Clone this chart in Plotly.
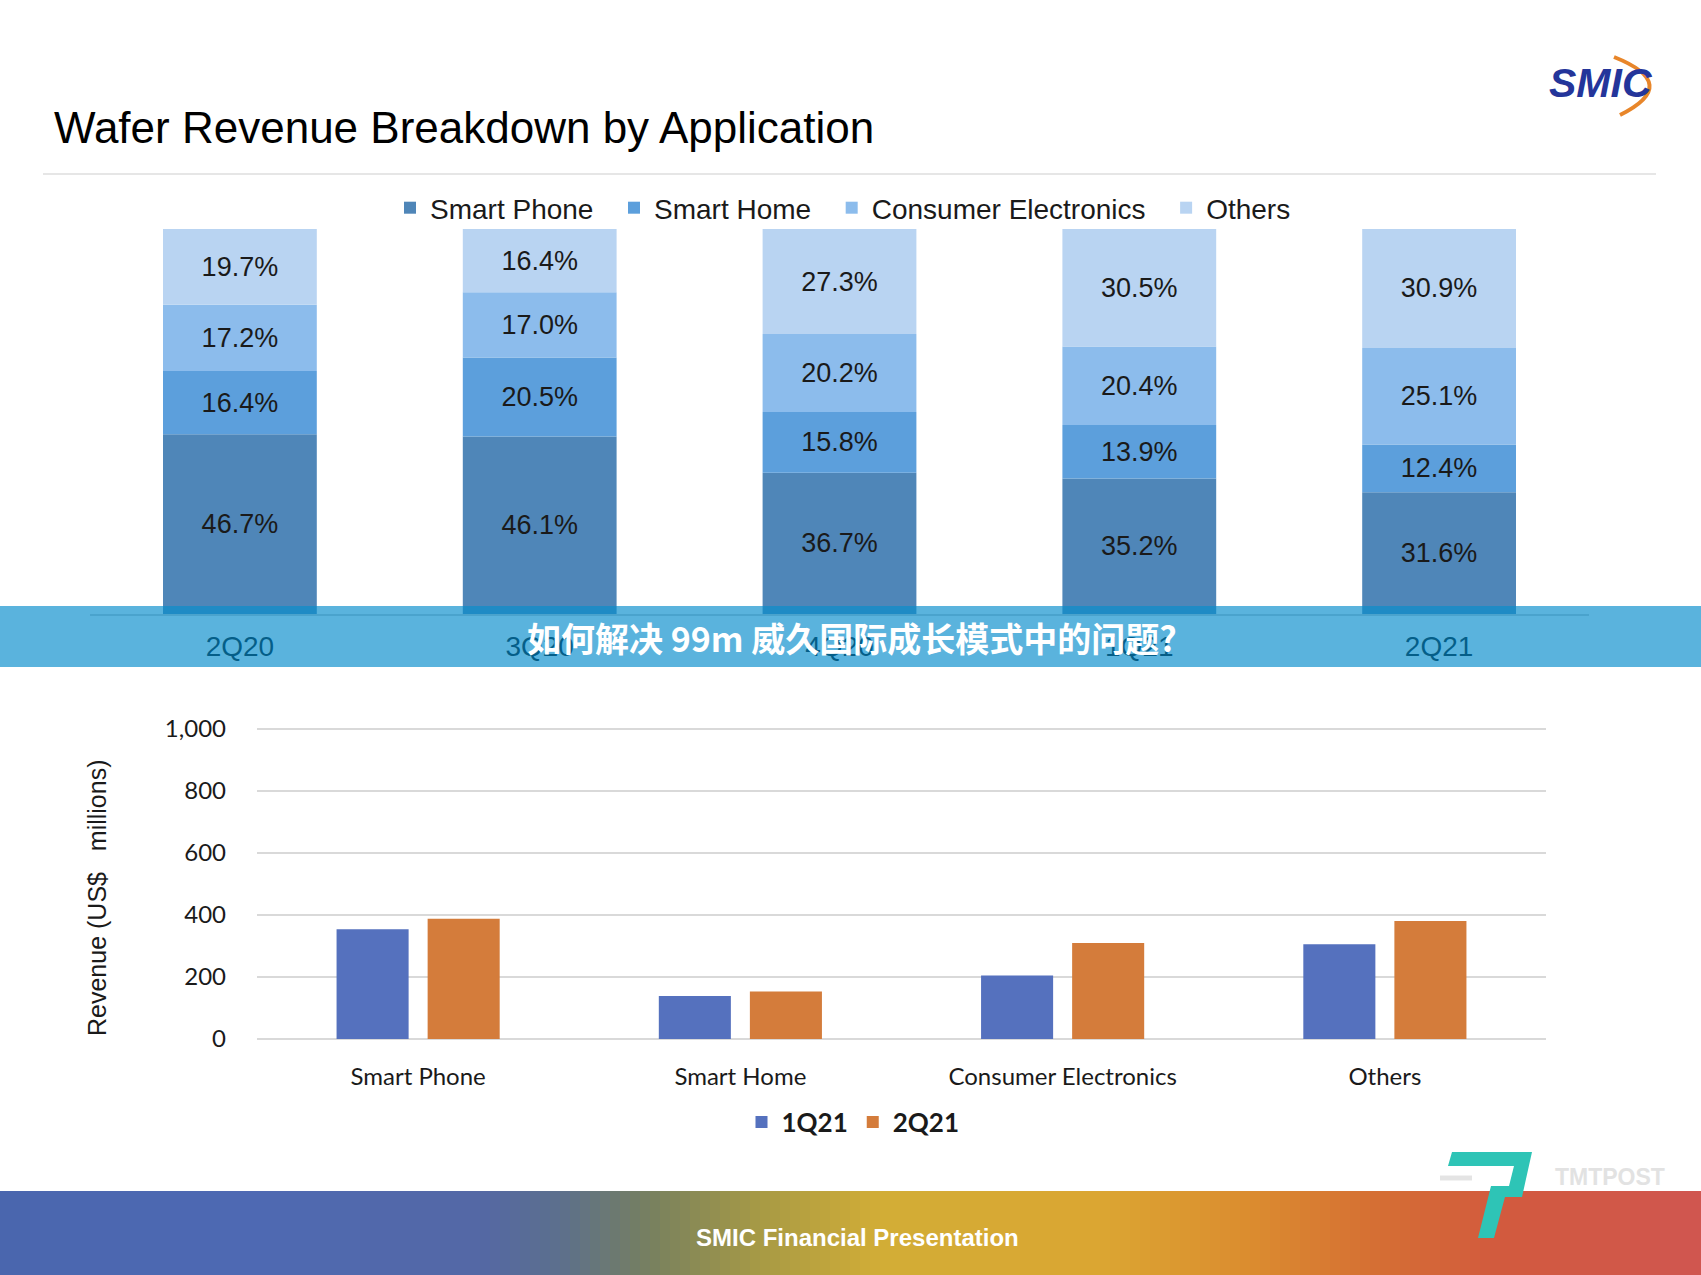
import plotly.graph_objects as go

W, H = 1701, 1275

# ---------------- data ----------------
quarters = ["2Q20", "3Q20", "4Q20", "1Q21", "2Q21"]
smart_phone = [46.7, 46.1, 36.7, 35.2, 31.6]
smart_home = [16.4, 20.5, 15.8, 13.9, 12.4]
consumer_electronics = [17.2, 17.0, 20.2, 20.4, 25.1]
others = [19.7, 16.4, 27.3, 30.5, 30.9]

applications = ["Smart Phone", "Smart Home", "Consumer Electronics", "Others"]
rev_1q21 = [354, 139, 205, 306]
rev_2q21 = [388, 153, 310, 381]
rev_ticks = [0, 200, 400, 600, 800, 1000]


def px_x(x):
    return x / W


def px_y(y):
    return 1 - y / H


fig = go.Figure()

# ---------------- top stacked chart ----------------
top_series = [
    ("Smart Phone", smart_phone, "#4F86B8", "\u00a0\u00a0"),
    ("Smart Home", smart_home, "#5C9FDC", "\u00a0\u00a0"),
    ("Consumer Electronics", consumer_electronics, "#8CBCEC", "\u00a0\u00a0"),
    ("Others", others, "#B9D4F2", ""),
]
base = [0.0] * len(quarters)
for name, vals, col, pad in top_series:
    fig.add_trace(go.Bar(
        x=quarters, y=vals, base=list(base), name=name + pad,
        marker=dict(color=col, line=dict(width=0)),
        width=0.513, offset=-0.2565,
        text=[f"{v:.1f}%" for v in vals],
        textposition="inside", insidetextanchor="middle", textangle=0,
        textfont=dict(family="Liberation Sans, Arial", size=27, color="#1a1a1a"),
        xaxis="x", yaxis="y", legend="legend",
    ))
    base = [b + v for b, v in zip(base, vals)]

# ---------------- bottom grouped chart ----------------
fig.add_trace(go.Bar(
    x=applications, y=rev_1q21, name="1Q21",
    marker=dict(color="#5571BE", line=dict(width=0)),
    width=0.2236, offset=-0.2531,
    xaxis="x2", yaxis="y2", legend="legend2",
))
fig.add_trace(go.Bar(
    x=applications, y=rev_2q21, name="2Q21",
    marker=dict(color="#D47C3B", line=dict(width=0)),
    width=0.2236, offset=0.0295,
    xaxis="x2", yaxis="y2", legend="legend2",
))

shapes = []
annotations = []

# separator line under title
shapes.append(dict(type="line", xref="paper", yref="paper",
                   x0=px_x(43), x1=px_x(1656), y0=px_y(174), y1=px_y(174),
                   line=dict(color="#E6E6E6", width=2), layer="above"))

# translucent banner across the top chart's axis
shapes.append(dict(type="rect", xref="paper", yref="paper",
                   x0=0, x1=1, y0=px_y(667), y1=px_y(606),
                   fillcolor="rgba(7,141,204,0.665)", line=dict(width=0),
                   layer="above"))

# footer gradient
stops = [
    (0, (74, 102, 174)), (250, (78, 105, 179)), (480, (84, 104, 165)),
    (560, (92, 111, 140)), (650, (119, 128, 95)), (760, (167, 154, 69)),
    (880, (210, 173, 54)), (1100, (219, 166, 50)), (1250, (219, 140, 47)),
    (1380, (213, 110, 52)), (1500, (210, 90, 62)), (1701, (208, 86, 80)),
]


def grad_col(x):
    for (xa, ca), (xb, cb) in zip(stops[:-1], stops[1:]):
        if xa <= x <= xb:
            t = (x - xa) / (xb - xa)
            c = [round(a + (b - a) * t) for a, b in zip(ca, cb)]
            return f"rgb({c[0]},{c[1]},{c[2]})"
    return "rgb(208,86,80)"


step = 10
for x0 in range(0, W, step):
    shapes.append(dict(type="rect", xref="paper", yref="paper",
                       x0=px_x(x0), x1=px_x(min(x0 + step + 1, W)),
                       y0=0, y1=px_y(1191),
                       fillcolor=grad_col(x0 + step / 2), line=dict(width=0),
                       layer="above"))

# TMTPOST logo mark
pts = [(1452, 1152), (1532, 1152), (1522, 1197), (1505, 1197), (1494, 1238),
       (1478, 1238), (1491, 1186), (1509, 1186), (1514, 1166), (1448, 1166)]
path = "M " + " L ".join(f"{px_x(a):.5f},{px_y(b):.5f}" for a, b in pts) + " Z"
shapes.append(dict(type="path", xref="paper", yref="paper", path=path,
                   fillcolor="#2EC4B6", line=dict(width=0), layer="above"))
shapes.append(dict(type="line", xref="paper", yref="paper",
                   x0=px_x(1440), x1=px_x(1472), y0=px_y(1178), y1=px_y(1178),
                   line=dict(color="#E4E4E4", width=5), layer="above"))

# SMIC logo arc
arc = (f"M {px_x(1614):.5f},{px_y(57):.5f} Q {px_x(1682):.5f},{px_y(84):.5f} "
       f"{px_x(1620):.5f},{px_y(115):.5f}")
shapes.append(dict(type="path", xref="paper", yref="paper", path=arc,
                   line=dict(color="#E8862A", width=4), layer="above"))

# ---------------- annotations ----------------
annotations.append(dict(
    text="Wafer Revenue Breakdown by Application", xref="paper", yref="paper",
    x=px_x(52), y=px_y(127), xanchor="left", yanchor="middle", showarrow=False,
    font=dict(family="Liberation Sans, Arial", size=44, color="#000000")))
annotations.append(dict(
    text="<b><i>SMIC</i></b>", xref="paper", yref="paper",
    x=px_x(1601), y=px_y(83), xanchor="center", yanchor="middle", showarrow=False,
    font=dict(family="Liberation Sans, Arial", size=41, color="#24359A")))
annotations.append(dict(
    text="如何解决 99m 威久国际成长模式中的问题?", xref="paper", yref="paper",
    x=px_x(852), y=px_y(637), xanchor="center", yanchor="middle", showarrow=False,
    font=dict(family="Noto Sans CJK SC", size=34, color="#FFFFFF", weight="bold")))
annotations.append(dict(
    text="Revenue (US$\u00a0\u00a0\u00a0millions)", xref="paper", yref="paper",
    x=px_x(97), y=px_y(898), xanchor="center", yanchor="middle", textangle=-90,
    showarrow=False,
    font=dict(family="Liberation Sans, Arial", size=25, color="#1a1a1a")))
annotations.append(dict(
    text="SMIC Financial Presentation", xref="paper", yref="paper",
    x=px_x(857), y=px_y(1237), xanchor="center", yanchor="middle", showarrow=False,
    font=dict(family="Liberation Sans Narrow, Liberation Sans, Arial", size=24,
              color="#FFFFFF", weight="bold")))
annotations.append(dict(
    text="TMTPOST", xref="paper", yref="paper",
    x=px_x(1610), y=px_y(1177), xanchor="center", yanchor="middle", showarrow=False,
    font=dict(family="Liberation Sans, Arial", size=23, color="#E2E2E2", weight="bold")))

fig.update_layout(
    width=W, height=H,
    autosize=False,
    margin=dict(l=0, r=0, t=0, b=0, pad=0, autoexpand=False),
    paper_bgcolor="#FFFFFF", plot_bgcolor="rgba(0,0,0,0)",
    barmode="group",
    showlegend=True,
    xaxis=dict(domain=[px_x(90), px_x(1589)], type="category",
               range=[-0.5, 4.5], showline=True, linecolor="#D0D0D0", linewidth=2,
               showgrid=False, zeroline=False, ticks="",
               ticklabelstandoff=6,
               tickfont=dict(family="Liberation Sans, Arial", size=28, color="#000000"),
               anchor="y", fixedrange=True),
    yaxis=dict(domain=[px_y(614), px_y(229)], range=[0, 100], visible=False,
               anchor="x", fixedrange=True),
    xaxis2=dict(domain=[px_x(257), px_x(1546)], type="category",
                range=[-0.5, 3.5], showline=False, showgrid=False, zeroline=False,
                ticks="", ticklabelstandoff=21,
                tickfont=dict(family="Lato, Open Sans", size=24, color="#1a1a1a"),
                anchor="y2", fixedrange=True),
    yaxis2=dict(domain=[px_y(1039), px_y(727.5)], range=[0, 1005],
                tickvals=rev_ticks,
                tickformat=",d", showgrid=True, gridcolor="#D9D9D9", gridwidth=2,
                zeroline=True, zerolinecolor="#D9D9D9", zerolinewidth=2,
                showline=False, ticks="", ticklabelstandoff=30,
                tickfont=dict(family="Lato, Open Sans", size=24, color="#1a1a1a"),
                anchor="x2", fixedrange=True),
    legend=dict(orientation="h", x=px_x(843), y=px_y(208), xanchor="center",
                yanchor="middle", traceorder="normal",
                font=dict(family="Liberation Sans, Arial", size=28, color="#1a1a1a"),
                itemwidth=30, bgcolor="rgba(0,0,0,0)"),
    legend2=dict(orientation="h", x=px_x(853), y=px_y(1122), xanchor="center",
                 yanchor="middle", traceorder="normal",
                 font=dict(family="Lato, Open Sans", size=26, color="#1a1a1a",
                           weight="bold"),
                 itemwidth=30, bgcolor="rgba(0,0,0,0)"),
    shapes=shapes,
    annotations=annotations,
)

fig.write_html(
    "out.html",
    config={"displayModeBar": False},
    post_script="document.body.style.margin='0px';document.body.style.overflow='hidden';",
)
